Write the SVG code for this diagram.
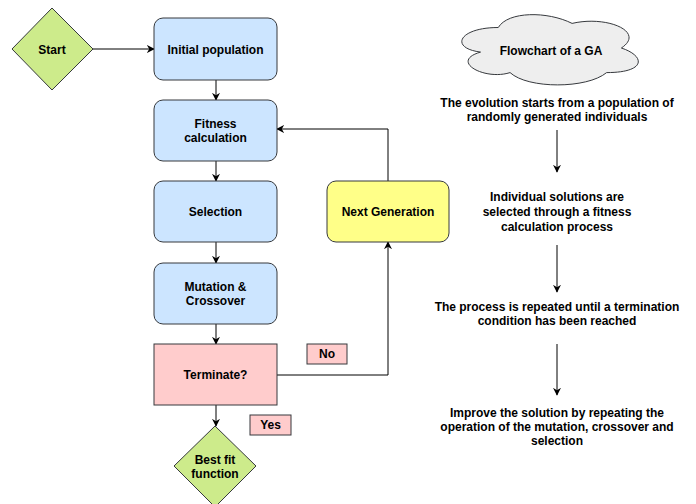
<svg xmlns="http://www.w3.org/2000/svg" width="696" height="504" viewBox="0 0 696 504">
<style>
text{font-family:"Liberation Sans",Arial,sans-serif;font-size:12px;font-weight:bold;fill:#000;text-anchor:middle}
.blue{fill:#cce5ff;stroke:#36393d;stroke-width:1}
.green{fill:#cdeb8b;stroke:#36393d;stroke-width:1}
.yellow{fill:#ffff88;stroke:#36393d;stroke-width:1}
.pink{fill:#ffcccc;stroke:#36393d;stroke-width:1}
.cloud{fill:#eeeeee;stroke:#36393d;stroke-width:1}
.edge{fill:none;stroke:#000;stroke-width:1;marker-end:url(#arr)}
</style>
<defs>
<marker id="arr" viewBox="0 0 10 10" refX="9" refY="5" markerWidth="8" markerHeight="8" markerUnits="userSpaceOnUse" orient="auto">
<path d="M0,0 L10,5 L0,10 L3,5 Z" fill="#000"/>
</marker>
</defs>
<rect width="696" height="504" fill="#fff"/>
<g id="connectors">
<path class="edge" d="M93,49 L154,49"/>
<path class="edge" d="M216,80 L216,100"/>
<path class="edge" d="M216,161 L216,181"/>
<path class="edge" d="M216,242 L216,263"/>
<path class="edge" d="M216,324 L216,344"/>
<path class="edge" d="M216,405 L216,426"/>
<path class="edge" d="M277,375 L388,375 L388,242"/>
<path class="edge" d="M388,181 L388,129 L277,129"/>
<path class="edge" d="M557,130 L557,172"/>
<path class="edge" d="M557,245 L557,292"/>
<path class="edge" d="M557,344 L557,395"/>
</g>
<g id="start"><polygon class="green" points="52,8 93,49 52,90 12,49"/><text x="52" y="54">Start</text></g>
<g id="initial"><rect class="blue" x="154" y="18" width="123" height="62" rx="9"/><text x="215.5" y="54">Initial population</text></g>
<g id="fitness"><rect class="blue" x="154" y="100" width="123" height="61" rx="9"/><text x="215.5" y="128">Fitness</text><text x="215.5" y="142">calculation</text></g>
<g id="selection"><rect class="blue" x="154" y="181" width="123" height="61" rx="9"/><text x="215.5" y="216">Selection</text></g>
<g id="mutation"><rect class="blue" x="154" y="263" width="123" height="61" rx="9"/><text x="215.5" y="291">Mutation &amp;</text><text x="215.5" y="305">Crossover</text></g>
<g id="terminate"><rect class="pink" x="154" y="344" width="123" height="61"/><text x="215.5" y="379">Terminate?</text></g>
<g id="nextgen"><rect class="yellow" x="327" y="181" width="122" height="61" rx="9"/><text x="388" y="216">Next Generation</text></g>
<g id="no"><rect class="pink" x="307" y="344" width="40" height="20"/><text x="327" y="358">No</text></g>
<g id="yes"><rect class="pink" x="250" y="415" width="41" height="20"/><text x="270.5" y="429">Yes</text></g>
<g id="bestfit"><polygon class="green" points="215,426 256,466 215,507 174,466"/><text x="215" y="464">Best fit</text><text x="215" y="478">function</text></g>
<g id="cloud"><path class="cloud" d="M498.25,27.5 C458.85,27.5 449,48 480.52,52.1 C449,61.12 484.46,80.8 510.07,72.6 C527.8,89 586.9,89 606.6,72.6 C646,72.6 646,56.2 621.4,48 C646,31.6 606.6,15.2 572.1,23.4 C547.5,11.1 508.1,11.1 498.25,27.5 Z"/><text x="551" y="55">Flowchart of a GA</text></g>
<g id="t1"><text x="557" y="107">The evolution starts from a population of</text><text x="557" y="121">randomly generated individuals</text></g>
<g id="t2"><text x="557" y="201">Individual solutions are</text><text x="557" y="216">selected through a fitness</text><text x="557" y="231">calculation process</text></g>
<g id="t3"><text x="557" y="311">The process is repeated until a termination</text><text x="557" y="325">condition has been reached</text></g>
<g id="t4"><text x="557" y="417">Improve the solution by repeating the</text><text x="557" y="431">operation of the mutation, crossover and</text><text x="557" y="445">selection</text></g>
</svg>
